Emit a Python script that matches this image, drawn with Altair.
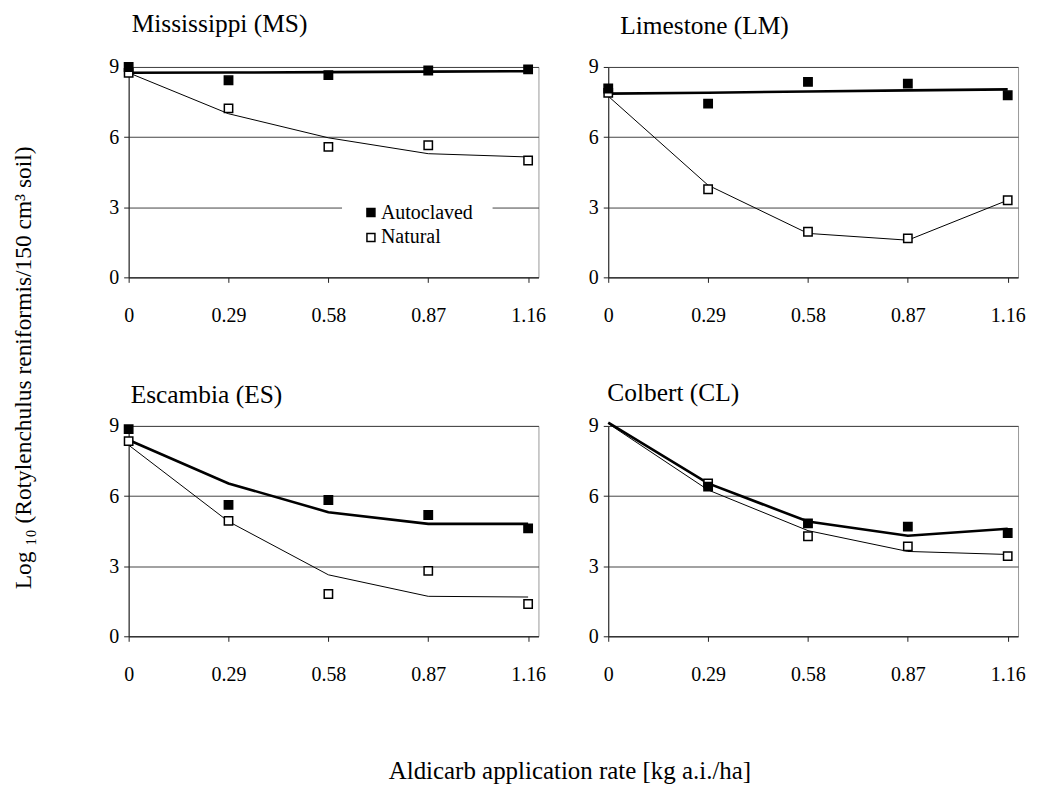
import altair as alt
import pandas as pd

# ---------------- data ----------------
RATES = [0, 0.29, 0.58, 0.87, 1.16]
RATE_TICKS = [0, 0.29, 0.58, 0.87, 1.16]
Y_TICKS = [0, 3, 6, 9]

SITE_CODES = ["MS", "LM", "ES", "CL"]
SITE_TITLES = ["Mississippi (MS)", "Limestone (LM)", "Escambia (ES)", "Colbert (CL)"]
SERIES = ["Autoclaved", "Natural"]

# observed means (squares)
MS_AUTO_OBS = [9.0, 8.43, 8.65, 8.85, 8.9]
MS_NAT_OBS = [8.75, 7.23, 5.58, 5.65, 5.0]
LM_AUTO_OBS = [8.08, 7.43, 8.36, 8.29, 7.79]
LM_NAT_OBS = [7.89, 3.77, 1.95, 1.67, 3.3]
ES_AUTO_OBS = [8.86, 5.62, 5.83, 5.19, 4.62]
ES_NAT_OBS = [8.35, 4.94, 1.81, 2.8, 1.38]
CL_AUTO_OBS = [None, 6.4, 4.83, 4.69, 4.42]
CL_NAT_OBS = [None, 6.54, 4.28, 3.85, 3.43]

# fitted curves (lines)
MS_AUTO_FIT = [8.75, 8.76, 8.78, 8.8, 8.82]
MS_NAT_FIT = [8.75, 7.0, 5.97, 5.29, 5.15]
LM_AUTO_FIT = [7.86, 7.9, 7.95, 8.0, 8.04]
LM_NAT_FIT = [7.75, 3.94, 1.88, 1.59, 3.3]
ES_AUTO_FIT = [8.4, 6.54, 5.31, 4.81, 4.81]
ES_NAT_FIT = [8.18, 4.91, 2.63, 1.71, 1.68]
CL_AUTO_FIT = [9.14, 6.54, 4.91, 4.3, 4.6]
CL_NAT_FIT = [9.1, 6.26, 4.52, 3.63, 3.5]

Y_TITLE = "Log \u2081\u2080 (Rotylenchulus reniformis/150 cm\u00b3 soil)"
X_TITLE = "Aldicarb application rate [kg a.i./ha]"

OBS = {
    "MS": (MS_AUTO_OBS, MS_NAT_OBS),
    "LM": (LM_AUTO_OBS, LM_NAT_OBS),
    "ES": (ES_AUTO_OBS, ES_NAT_OBS),
    "CL": (CL_AUTO_OBS, CL_NAT_OBS),
}
FIT = {
    "MS": (MS_AUTO_FIT, MS_NAT_FIT),
    "LM": (LM_AUTO_FIT, LM_NAT_FIT),
    "ES": (ES_AUTO_FIT, ES_NAT_FIT),
    "CL": (CL_AUTO_FIT, CL_NAT_FIT),
}

rows = []
for code in SITE_CODES:
    # Natural first so that Autoclaved squares are drawn on top
    for kind, src in (("fit", FIT), ("obs", OBS)):
        auto, nat = src[code]
        for series, vals in (("Natural", nat), ("Autoclaved", auto)):
            for r, v in zip(RATES, vals):
                if v is not None:
                    rows.append({"site": code, "kind": kind, "series": series,
                                 "rate": r, "value": v})
df = pd.DataFrame(rows)

FONT = "Liberation Serif"
W, H = 411, 211


def panel(code, title, dx, offset, legend):
    base = alt.Chart(df).transform_filter(alt.datum.site == code)
    x = alt.X("rate:Q",
              scale=alt.Scale(domain=[0, 1.19], nice=False, zero=False),
              axis=alt.Axis(values=RATE_TICKS, format=".2~f", title=None,
                            grid=False, tickSize=5, labelPadding=23,
                            labelFlush=False))
    y = alt.Y("value:Q",
              scale=alt.Scale(domain=[0, 9], nice=False),
              axis=alt.Axis(values=Y_TICKS, title=None, grid=True,
                            tickSize=5, labelPadding=5))
    fits = base.transform_filter(alt.datum.kind == "fit")
    line_auto = fits.transform_filter(alt.datum.series == "Autoclaved").mark_line(
        color="black", strokeWidth=2.6).encode(x=x, y=y)
    line_nat = fits.transform_filter(alt.datum.series == "Natural").mark_line(
        color="black", strokeWidth=1.0).encode(x=x, y=y)
    if legend:
        leg = alt.Legend(title=None, orient="none", legendX=214, legendY=117,
                         fillColor="white", padding=19, labelFont=FONT,
                         labelFontSize=20, labelColor="black",
                         symbolType="square", symbolSize=64,
                         symbolStrokeColor="black", symbolStrokeWidth=1.5,
                         rowPadding=5, labelOffset=0)
    else:
        leg = None
    points = base.transform_filter(alt.datum.kind == "obs").mark_point(
        shape="square", size=70, filled=True, stroke="black",
        strokeWidth=1.5, opacity=1).encode(
        x=x, y=y,
        fill=alt.Fill("series:N",
                      scale=alt.Scale(domain=SERIES, range=["black", "white"]),
                      legend=leg),
    )
    return alt.layer(line_auto, line_nat, points).properties(
        width=W, height=H,
        title=alt.TitleParams(title, anchor="start", frame="group",
                              font=FONT, fontSize=25.5, fontWeight="normal",
                              color="black", offset=offset, dx=dx),
    )


p_ms = panel("MS", SITE_TITLES[0], 3, 20, True)
p_lm = panel("LM", SITE_TITLES[1], 12, 18, False)
p_es = panel("ES", SITE_TITLES[2], 2, 7, False)
p_cl = panel("CL", SITE_TITLES[3], -1, 9, False)

row1 = alt.hconcat(p_ms, p_lm, spacing=41)
row2 = alt.hconcat(p_es, p_cl, spacing=41)

grid = alt.vconcat(row1, row2, spacing=55).properties(
    title=alt.TitleParams(X_TITLE, orient="bottom", anchor="middle",
                          font=FONT, fontSize=25, fontWeight="normal",
                          color="black", offset=75, dx=3))

chart = alt.vconcat(grid).properties(
    title=alt.TitleParams(Y_TITLE, orient="left", anchor="middle",
                          font=FONT, fontSize=23.5, fontWeight="normal",
                          color="black", offset=73, dx=30),
    padding={"left": 3, "top": 2, "right": 5, "bottom": 0},
).configure_view(
    stroke="#999", strokeWidth=1
).configure_axis(
    labelFont=FONT, labelFontSize=20, labelColor="black",
    tickColor="#222", domainColor="#222", gridColor="#444",
    gridOpacity=1, gridWidth=1, domainWidth=1
)

chart.save("out.html", embed_options={"renderer": "svg", "actions": False})
